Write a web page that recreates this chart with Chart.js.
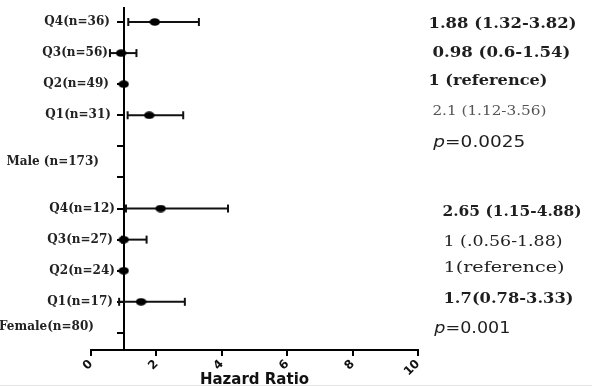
<!DOCTYPE html>
<html>
<head>
<meta charset="utf-8">
<script src="https://cdn.jsdelivr.net/npm/chart.js@4.4.1/dist/chart.umd.min.js"></script>
<style>
  html, body { margin: 0; padding: 0; background: #fff; }
  #wrap { width: 600px; height: 391px; position: relative; }
</style>
</head>
<body>
<div id="wrap"><canvas id="c" width="600" height="391"></canvas></div>
<script>
// ---- data ----
const rowLabels = ['Q4(n=36)', 'Q3(n=56)', 'Q2(n=49)', 'Q1(n=31)', '', '', 'Q4(n=12)', 'Q3(n=27)', 'Q2(n=24)', 'Q1(n=17)', ''];
const hazardRatio = [1.95, 0.92, 1.0, 1.78, null, null, 2.13, 1.0, 1.0, 1.53, null];
const ciLow  = [1.14, 0.58, null, 1.12, null, null, 1.07, 0.95, null, 0.86, null];
const ciHigh = [3.30, 1.39, null, 2.82, null, null, 4.19, 1.70, null, 2.87, null];
const groupLabels = ['Male (n=173)', 'Female(n=80)'];
const maleHRText = ['1.88 (1.32-3.82)', '0.98 (0.6-1.54)', '1 (reference)', '2.1 (1.12-3.56)'];
const femaleHRText = ['2.65 (1.15-4.88)', '1 (.0.56-1.88)', '1(reference)', '1.7(0.78-3.33)'];
const pValues = ['0.0025', '0.001'];
const xTicks = [0, 2, 4, 6, 8, 10];

// ellipse marker
function makeDot() {
  const cv = document.createElement('canvas');
  cv.width = 11; cv.height = 8;
  const g = cv.getContext('2d');
  g.fillStyle = '#000';
  g.beginPath();
  g.ellipse(5.5, 4, 5.2, 3.8, 0, 0, Math.PI * 2);
  g.fill();
  return cv;
}
const dot = makeDot();

const datasets = [];
datasets.push({
  label: 'HR',
  data: hazardRatio.map((v, i) => v == null ? null : { x: v, y: i }).filter(p => p),
  showLine: false,
  pointStyle: dot,
  pointRadius: 5,
  backgroundColor: '#000',
  borderColor: '#000',
  order: 0
});
ciLow.forEach((lo, i) => {
  if (lo == null) return;
  datasets.push({
    label: 'CI' + i,
    data: [{ x: lo, y: i }, { x: ciHigh[i], y: i }],
    showLine: true,
    borderColor: '#111',
    borderWidth: 2,
    pointStyle: 'line',
    pointRotation: 90,
    pointRadius: 4,
    pointBorderWidth: 2,
    pointBorderColor: '#111',
    order: 1
  });
});

// annotation layout (styles/positions, not data)
const rowLabelRight = [110, 108, 109, 111, 0, 0, 115, 113, 115, 113, 0];
const rightStyle = [
  // male
  { row: 0.065, x: 10.32, w: 148, font: 'bold 14px "DejaVu Serif"', color: '#1e1e1e' },
  { row: 0.997, x: 10.44, w: 138, font: 'bold 14px "DejaVu Serif"', color: '#1e1e1e' },
  { row: 1.898, x: 10.32, w: 119, font: 'bold 14px "DejaVu Serif"', color: '#1e1e1e' },
  { row: 2.895, x: 10.44, w: 114, font: '13px "DejaVu Serif"', color: '#555' },
  // female
  { row: 6.11, x: 10.75, w: 139, font: 'bold 14px "DejaVu Serif"', color: '#1e1e1e' },
  { row: 7.077, x: 10.78, w: 119, font: '14px "DejaVu Serif"', color: '#222' },
  { row: 7.91, x: 10.78, w: 121, font: '14px "DejaVu Serif"', color: '#222' },
  { row: 8.91, x: 10.78, w: 130, font: 'bold 14px "DejaVu Serif"', color: '#1e1e1e' }
];
const pStyle = [
  { row: 3.89, x: 10.47, w: 92 },
  { row: 9.87, x: 10.50, w: 76 }
];
const groupStyle = [
  { row: 4.5, right: 99 },
  { row: 9.8, right: 94 }
];

function drawStretched(ctx, text, x, y, targetW) {
  const w = ctx.measureText(text).width;
  const sx = targetW / w;
  ctx.save();
  ctx.translate(x, y);
  ctx.scale(sx, 1);
  ctx.fillText(text, 0, 0);
  ctx.restore();
}

const annot = {
  id: 'annot',
  afterDraw(chart) {
    const ctx = chart.ctx;
    const xs = chart.scales.x, ys = chart.scales.y;
    ctx.save();
    ctx.textBaseline = 'middle';
    // row (y-axis category) labels
    ctx.textAlign = 'right';
    ctx.font = 'bold 12px "DejaVu Serif"';
    ctx.fillStyle = '#222';
    rowLabels.forEach((t, i) => {
      if (!t) return;
      ctx.fillText(t, rowLabelRight[i], ys.getPixelForValue(i));
    });
    // group labels
    groupLabels.forEach((g, i) => {
      const s = groupStyle[i];
      ctx.fillText(g, s.right, ys.getPixelForValue(s.row));
    });
    // right-hand HR texts
    ctx.textAlign = 'left';
    const allText = maleHRText.concat(femaleHRText);
    allText.forEach((t, i) => {
      const s = rightStyle[i];
      ctx.font = s.font;
      ctx.fillStyle = s.color;
      drawStretched(ctx, t, xs.getPixelForValue(s.x), ys.getPixelForValue(s.row), s.w);
    });
    pValues.forEach((p, i) => {
      const s = pStyle[i];
      const x0 = xs.getPixelForValue(s.x), y0 = ys.getPixelForValue(s.row);
      ctx.fillStyle = '#1e1e1e';
      ctx.font = 'italic 15px "DejaVu Sans"';
      const w1 = ctx.measureText('p').width;
      ctx.font = '15px "DejaVu Sans"';
      const rest = '=' + p;
      const w2 = ctx.measureText(rest).width;
      const sx = s.w / (w1 + w2);
      ctx.save();
      ctx.translate(x0, y0);
      ctx.scale(sx, 1);
      ctx.font = 'italic 15px "DejaVu Sans"';
      ctx.fillText('p', 0, 0);
      ctx.font = '15px "DejaVu Sans"';
      ctx.fillText(rest, w1, 0);
      ctx.restore();
    });
    // faint bottom rule
    ctx.strokeStyle = '#e4e4e4';
    ctx.lineWidth = 1;
    ctx.beginPath();
    ctx.moveTo(0, 385.5);
    ctx.lineTo(592, 385.5);
    ctx.stroke();
    ctx.restore();
  }
};

new Chart(document.getElementById('c'), {
  type: 'scatter',
  data: { datasets },
  options: {
    responsive: false,
    animation: false,
    layout: { padding: { left: 91, right: 182, top: 8, bottom: 0 } },
    plugins: { legend: { display: false }, tooltip: { enabled: false } },
    scales: {
      x: {
        type: 'linear', min: 0, max: 10, position: 'bottom',
        afterBuildTicks: (s) => { s.ticks = xTicks.map(v => ({ value: v })); },
        ticks: {
          minRotation: 45, maxRotation: 45, padding: 1,
          font: { family: 'DejaVu Sans', weight: 'bold', size: 12 },
          color: '#111'
        },
        grid: { drawOnChartArea: false, drawTicks: true, tickLength: 6, color: '#000', lineWidth: 2 },
        border: { color: '#000', width: 2 },
        title: {
          display: true, text: 'Hazard Ratio',
          font: { family: 'DejaVu Sans', weight: 'bold', size: 15 },
          color: '#111', padding: { top: 0, bottom: 2 }
        },
        afterFit: (s) => { s.height = 41; }
      },
      y: {
        type: 'linear', reverse: true, min: -0.45, max: 10.55,
        position: { x: 1 },
        afterBuildTicks: (s) => { s.ticks = rowLabels.map((_, i) => ({ value: i })); },
        ticks: { display: false },
        grid: { drawOnChartArea: false, drawTicks: true, tickLength: 6, color: '#000', lineWidth: 2 },
        border: { color: '#000', width: 2 },
        afterFit: (s) => { s.width = 0; }
      }
    }
  },
  plugins: [annot]
});
</script>
</body>
</html>
